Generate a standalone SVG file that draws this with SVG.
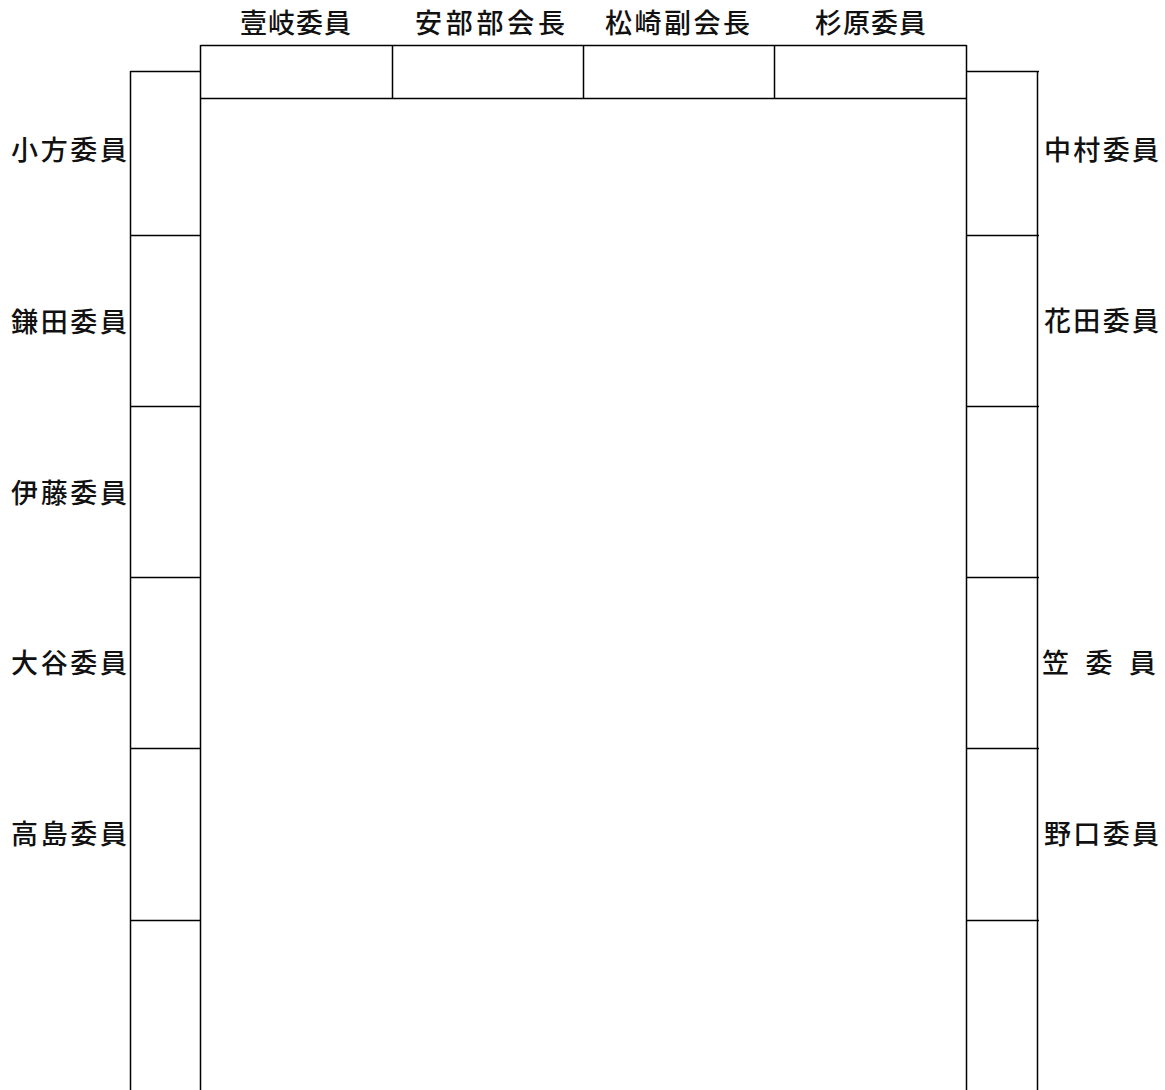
<svg xmlns="http://www.w3.org/2000/svg" width="1165" height="1090" viewBox="0 0 1165 1090">
<style>
.ln{stroke:#000;stroke-width:1.5;fill:none}
.lb{font-family:"Noto Sans CJK JP","Noto Sans CJK SC",sans-serif;font-size:27px;font-weight:500;fill:#111}
</style>
<rect width="1165" height="1090" fill="#fff"/>
<g id="connectors">
<path class="ln" d="M200.5 45.5H966.5M200.5 98.5H966.5M200.5 45V1090M966.5 45V1090M392.5 45.5V98.5M583.5 45.5V98.5M774.5 45.5V98.5"/>
<path class="ln" d="M130.5 71.5H200.5M130.5 71V1090M130.5 235.5H200.5M130.5 406.5H200.5M130.5 577.5H200.5M130.5 748.5H200.5M130.5 920.5H200.5"/>
<path class="ln" d="M966.5 71.5H1039M1037.5 71V1090M966.5 235.5H1039M966.5 406.5H1039M966.5 577.5H1039M966.5 748.5H1039M966.5 920.5H1039"/>
</g>
<g id="top-1"><text class="lb" x="240" y="33" textLength="111" lengthAdjust="spacing">壹岐委員</text></g>
<g id="top-2"><text class="lb" x="415" y="33" textLength="150" lengthAdjust="spacing">安部部会長</text></g>
<g id="top-3"><text class="lb" x="605" y="33" textLength="145" lengthAdjust="spacing">松崎副会長</text></g>
<g id="top-4"><text class="lb" x="815" y="33" textLength="111" lengthAdjust="spacing">杉原委員</text></g>
<g id="left-1"><text class="lb" x="11" y="160" textLength="116" lengthAdjust="spacing">小方委員</text></g>
<g id="left-2"><text class="lb" x="11" y="332" textLength="116" lengthAdjust="spacing">鎌田委員</text></g>
<g id="left-3"><text class="lb" x="11" y="503" textLength="116" lengthAdjust="spacing">伊藤委員</text></g>
<g id="left-4"><text class="lb" x="11" y="673" textLength="116" lengthAdjust="spacing">大谷委員</text></g>
<g id="left-5"><text class="lb" x="11" y="844" textLength="116" lengthAdjust="spacing">高島委員</text></g>
<g id="right-1"><text class="lb" x="1044" y="160" textLength="115" lengthAdjust="spacing">中村委員</text></g>
<g id="right-2"><text class="lb" x="1044" y="331" textLength="115" lengthAdjust="spacing">花田委員</text></g>
<g id="right-4"><text class="lb" x="1042" y="673" textLength="114" lengthAdjust="spacing">笠 委 員</text></g>
<g id="right-5"><text class="lb" x="1044" y="844" textLength="115" lengthAdjust="spacing">野口委員</text></g>
</svg>
